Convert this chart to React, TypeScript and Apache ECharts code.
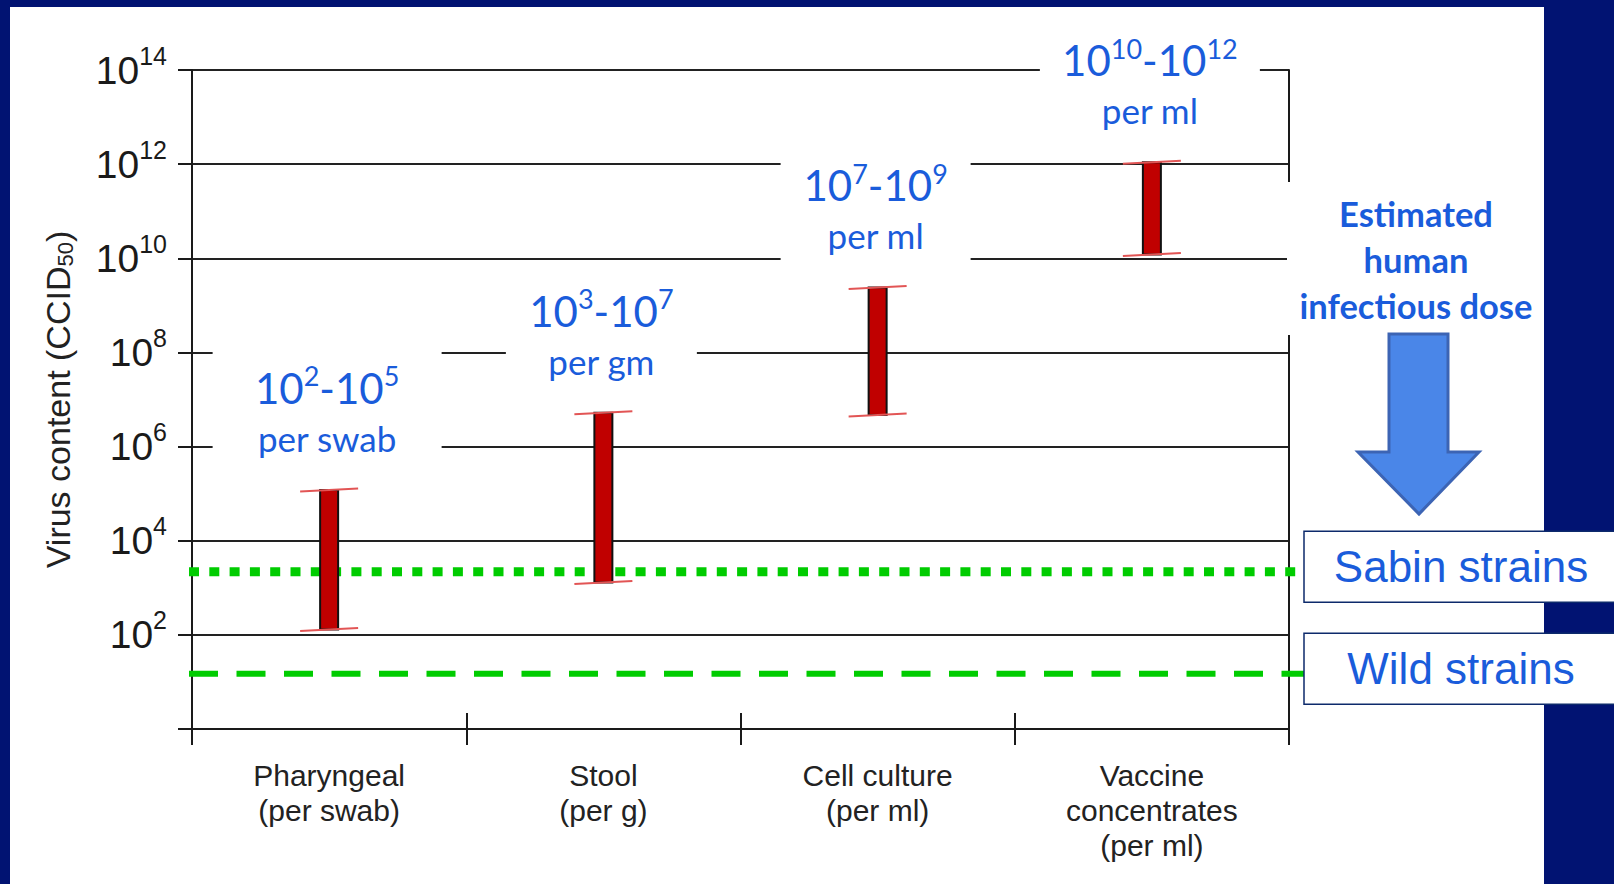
import React, { useEffect, useRef } from "react";
import * as echarts from "echarts";

// ---------------- data ----------------
const categories = [
  "Pharyngeal\n(per swab)",
  "Stool\n(per g)",
  "Cell culture\n(per ml)",
  "Vaccine\nconcentrates\n(per ml)",
];
const rangeLow = [1.3e2, 1.3e3, 4.7e6, 1.2e10];
const rangeHigh = [1.2e5, 5.2e6, 2.4e9, 1.1e12];
const rangeLabelExps = [
  [2, 5],
  [3, 7],
  [7, 9],
  [10, 12],
];
const rangeUnits = ["per swab", "per gm", "per ml", "per ml"];
const thresholdNames = ["Sabin strains", "Wild strains"];
const thresholdValues = [2.2e3, 15];
const yExpMin = 0;
const yExpMax = 14;
const yExpStep = 2;
const doseNote = ["Estimated", "human", "infectious dose"];
const yTitleMain = "Virus content (CCID";
const yTitleSub = "50";

// ---------------- styles ----------------
const NAVY = "#011372";
const BLUE = "#1a5cdb";
const LABEL_BOX_W = [229, 191, 190, 220];
const W = 1614;
const H = 884;

export default function App() {
  const ref = useRef<HTMLDivElement | null>(null);

  useEffect(() => {
    if (!ref.current) return;
    const chart = echarts.init(ref.current, undefined, {
      renderer: "svg",
      width: W,
      height: H,
    });

    const barData = categories.map((_, i) => [
      i,
      Math.log10(rangeLow[i]),
      Math.log10(rangeHigh[i]),
    ]);
    const thrData = thresholdValues.map((v, k) => [k, Math.log10(v)]);

    const option: any = {
      animation: false,
      grid: {
        left: 192,
        right: 325,
        top: 70,
        bottom: 155,
        containLabel: false,
        outerBoundsMode: "none",
      },
      xAxis: [
        {
          type: "category",
          data: categories,
          position: "bottom",
          axisLine: { show: true, lineStyle: { color: "#1a1a1a", width: 2 } },
          axisTick: { show: true, length: 16, lineStyle: { color: "#1a1a1a", width: 2 } },
          axisLabel: {
            margin: 29,
            fontSize: 30,
            lineHeight: 35,
            color: "#222",
            fontFamily: "Liberation Sans",
          },
          splitLine: { show: false },
        },
        {
          type: "category",
          data: categories,
          position: "bottom",
          axisLine: { show: false },
          axisTick: { show: true, inside: true, length: 16, lineStyle: { color: "#1a1a1a", width: 2 } },
          axisLabel: { show: false },
          splitLine: { show: false },
        },
      ],
      yAxis: [
        {
          type: "value",
          position: "left",
          min: yExpMin,
          max: yExpMax,
          interval: yExpStep,
          name: `{a|${yTitleMain}}{sub|${yTitleSub}}{a|)}`,
          nameLocation: "middle",
          nameRotate: 90,
          nameGap: 116,
          nameTextStyle: {
            rich: {
              a: {
                fontSize: 34,
                lineHeight: 36,
                fontFamily: "Liberation Sans",
                color: "#222",
                verticalAlign: "middle",
              },
              sub: {
                fontSize: 22,
                lineHeight: 24,
                fontFamily: "Liberation Sans",
                color: "#222",
                verticalAlign: "bottom",
              },
            },
          },
          axisLine: { show: true, lineStyle: { color: "#1a1a1a", width: 2 } },
          axisTick: { show: true, length: 14, lineStyle: { color: "#1a1a1a", width: 2 } },
          axisLabel: {
            margin: 25,
            formatter: (v: number) => (v === 0 ? "" : `{b|10}{s|${v}}`),
            rich: {
              b: {
                fontSize: 39,
                lineHeight: 42,
                fontFamily: "Liberation Sans",
                color: "#1a1a1a",
                verticalAlign: "middle",
              },
              s: {
                fontSize: 25,
                lineHeight: 4,
                padding: [0, 0, 29, 0],
                fontFamily: "Liberation Sans",
                color: "#1a1a1a",
                verticalAlign: "middle",
              },
            },
          },
          splitLine: { show: true, lineStyle: { color: "#222", width: 2 } },
        },
        {
          type: "value",
          position: "right",
          min: yExpMin,
          max: yExpMax,
          interval: yExpStep,
          axisLine: { show: true, lineStyle: { color: "#1a1a1a", width: 2 } },
          axisTick: { show: false },
          axisLabel: { show: false },
          splitLine: { show: false },
        },
      ],
      series: [
        {
          type: "custom",
          name: "thresholds",
          coordinateSystem: "cartesian2d",
          z: 1,
          silent: true,
          data: thrData,
          encode: { x: 0, y: 1 },
          renderItem: (params: any, api: any) => {
            const k = api.value(0);
            const y = api.coord([0, api.value(1)])[1];
            const cs = params.coordSys;
            const boxX = cs.x + cs.width + 15;
            const fullW = api.getWidth();
            const dotted = k === 0;
            return {
              type: "group",
              children: [
                {
                  type: "line",
                  shape: { x1: cs.x - 3, y1: y, x2: boxX, y2: y },
                  style: {
                    stroke: "#00CC00",
                    lineWidth: dotted ? 9 : 6,
                    lineDash: dotted ? [10, 10.3] : [29, 18.5],
                  },
                },
                {
                  type: "rect",
                  shape: { x: boxX, y: y - 5 - 35.5, width: fullW - boxX + 10, height: 71 },
                  style: { fill: "#fff", stroke: "#0d2a6b", lineWidth: 1.5 },
                },
                {
                  type: "text",
                  style: {
                    text: thresholdNames[k],
                    x: 1461,
                    y: y - 5,
                    align: "center",
                    verticalAlign: "middle",
                    fontSize: 44,
                    fontFamily: "Liberation Sans",
                    fill: BLUE,
                  },
                },
              ],
            };
          },
        },
        {
          type: "custom",
          name: "virus content range",
          coordinateSystem: "cartesian2d",
          z: 3,
          silent: true,
          data: barData,
          encode: { x: 0, y: [1, 2] },
          renderItem: (params: any, api: any) => {
            const i = api.value(0);
            const lo = api.coord([i, api.value(1)]);
            const hi = api.coord([i, api.value(2)]);
            const cx = lo[0];
            const barW = 18;
            const capW = 58;
            const mainY = hi[1] - 102;
            const subY = hi[1] - 52;
            const lx = cx - 2;
            const bw = LABEL_BOX_W[i];
            const [e1, e2] = rangeLabelExps[i];
            const boxTop = mainY - 43;
            const boxBot = subY + 26;
            return {
              type: "group",
              children: [
                {
                  type: "rect",
                  shape: { x: lx - bw / 2, y: boxTop, width: bw, height: boxBot - boxTop },
                  style: { fill: "#fff" },
                },
                {
                  type: "text",
                  style: {
                    text: `{b|10}{s|${e1}}{b|-10}{s|${e2}}`,
                    x: lx,
                    y: mainY,
                    align: "center",
                    verticalAlign: "middle",
                    fill: BLUE,
                    rich: {
                      b: {
                        fontSize: 42,
                        lineHeight: 48,
                        fontFamily: "Lato",
                        fill: BLUE,
                        verticalAlign: "middle",
                      },
                      s: {
                        fontSize: 27,
                        lineHeight: 4,
                        padding: [0, 0, 24, 0],
                        fontFamily: "Lato",
                        fill: BLUE,
                        verticalAlign: "middle",
                      },
                    },
                  },
                },
                {
                  type: "text",
                  style: {
                    text: rangeUnits[i],
                    x: lx,
                    y: subY,
                    align: "center",
                    verticalAlign: "middle",
                    fontSize: 35,
                    fontFamily: "Lato",
                    fill: BLUE,
                  },
                },
                {
                  type: "rect",
                  shape: { x: cx - barW / 2, y: hi[1], width: barW, height: lo[1] - hi[1] },
                  style: { fill: "#C00000", stroke: "#111", lineWidth: 2 },
                },
                {
                  type: "line",
                  shape: { x1: cx - capW / 2, y1: hi[1] + 1.5, x2: cx + capW / 2, y2: hi[1] - 1.5 },
                  style: { stroke: "#E25555", lineWidth: 2 },
                },
                {
                  type: "line",
                  shape: { x1: cx - capW / 2, y1: lo[1] + 1.5, x2: cx + capW / 2, y2: lo[1] - 1.5 },
                  style: { stroke: "#E25555", lineWidth: 2 },
                },
              ],
            };
          },
        },
      ],
      graphic: {
        elements: [
          {
            type: "rect",
            z: 100,
            silent: true,
            shape: { x: 1287, y: 182, width: 257, height: 153 },
            style: { fill: "#fff" },
          },
          ...doseNote.map((t, j) => ({
            type: "text",
            z: 101,
            silent: true,
            x: 1416,
            y: 213 + j * 46,
            style: {
              text: t,
              align: "center",
              verticalAlign: "middle",
              fontSize: 34.5,
              fontWeight: "bold",
              fontFamily: "Lato",
              fill: BLUE,
            },
          })),
          {
            type: "polygon",
            z: 101,
            silent: true,
            shape: {
              points: [
                [1389, 334],
                [1448, 334],
                [1448, 452],
                [1479, 452],
                [1419, 514],
                [1358, 452],
                [1389, 452],
              ],
            },
            style: { fill: "#4A86E8", stroke: "#3C64B4", lineWidth: 3 },
          },
        ],
      },
    };

    chart.setOption(option);
    return () => {
      chart.dispose();
    };
  }, []);

  return (
    <div
      style={{
        position: "fixed",
        left: 0,
        top: 0,
        width: W,
        height: H,
        background: NAVY,
        overflow: "hidden",
      }}
    >
      <div
        style={{
          position: "absolute",
          left: 10,
          top: 7,
          width: 1534,
          height: H - 7,
          background: "#fff",
        }}
      />
      <div
        ref={ref}
        style={{ position: "absolute", left: 0, top: 0, width: W, height: H }}
      />
    </div>
  );
}
